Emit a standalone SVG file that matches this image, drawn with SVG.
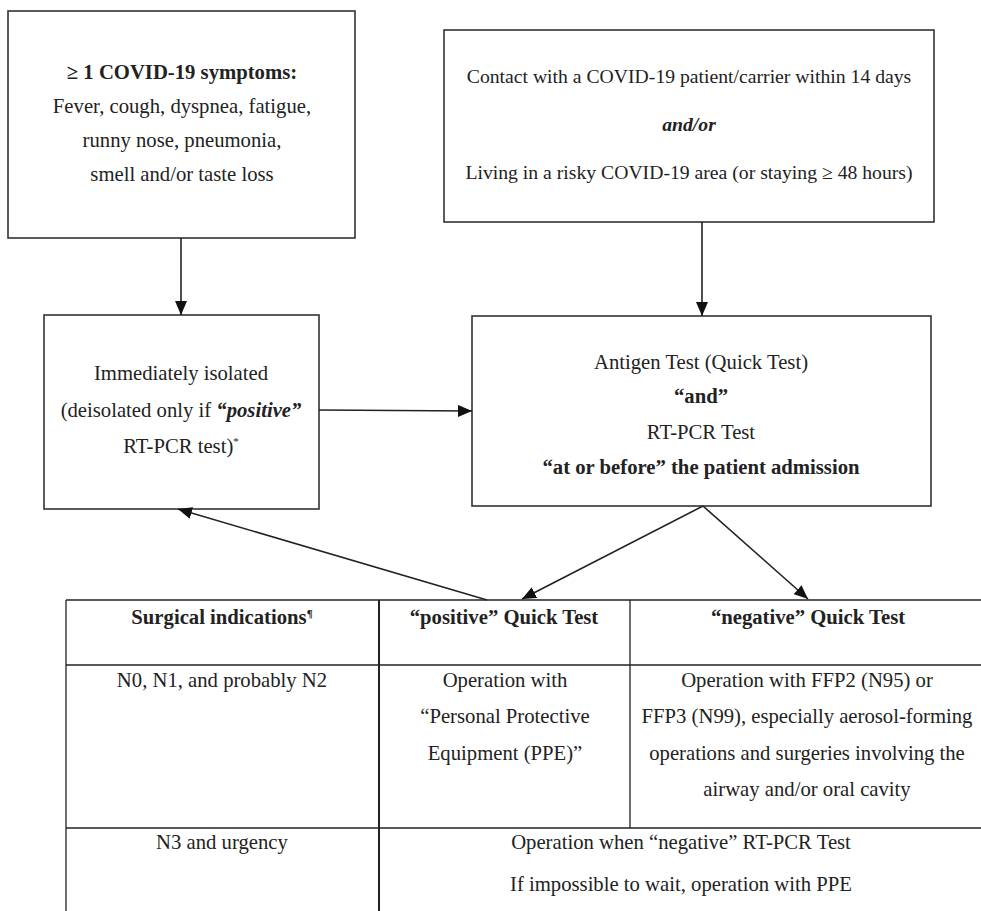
<svg xmlns="http://www.w3.org/2000/svg" width="981" height="911" viewBox="0 0 981 911">
<style>
text{font-family:'Liberation Serif','DejaVu Serif',serif;font-size:20.7px;fill:#222;text-anchor:middle}
.s{font-size:19.7px}
.b{font-weight:bold}
.bi{font-weight:bold;font-style:italic}
.box{fill:#fff;stroke:#333;stroke-width:1.6}
.ln{stroke:#222;stroke-width:1.6;fill:none}
.tl{stroke:#222;stroke-width:1.3;fill:none}
</style>
<defs>
<marker id="ah" markerWidth="14" markerHeight="12" refX="14" refY="6" orient="auto" markerUnits="userSpaceOnUse">
<path d="M0,0 L14,6 L0,12 Z" fill="#111"/>
</marker>
</defs>
<rect width="981" height="911" fill="#fff"/>
<g id="symptoms">
<rect class="box" x="8" y="11" width="347" height="227"/>
<text x="182" y="79" class="b">≥ 1 COVID-19 symptoms:</text>
<text x="182" y="113">Fever, cough, dyspnea, fatigue,</text>
<text x="182" y="147">runny nose, pneumonia,</text>
<text x="182" y="181">smell and/or taste loss</text>
</g>
<g id="contact">
<rect class="box" x="444" y="30" width="490" height="192"/>
<text x="689" y="83" class="s">Contact with a COVID-19 patient/carrier within 14 days</text>
<text x="689" y="131" class="s bi">and/or</text>
<text x="689" y="179" class="s">Living in a risky COVID-19 area (or staying ≥ 48 hours)</text>
</g>
<g id="isolated">
<rect class="box" x="44" y="315" width="275" height="194"/>
<text x="181" y="380">Immediately isolated</text>
<text x="181" y="417">(deisolated only if <tspan class="bi">“positive”</tspan></text>
<text x="181" y="453">RT-PCR test)<tspan font-size="11" dy="-8">*</tspan></text>
</g>
<g id="antigen">
<rect class="box" x="472" y="316" width="459" height="190"/>
<text x="701" y="369">Antigen Test (Quick Test)</text>
<text x="701" y="403" class="b">“and”</text>
<text x="701" y="439">RT-PCR Test</text>
<text x="701" y="474" class="b">“at or before” the patient admission</text>
</g>
<g id="connectors">
<line class="ln" x1="181" y1="238" x2="181" y2="315" marker-end="url(#ah)"/>
<line class="ln" x1="702" y1="222" x2="702" y2="316" marker-end="url(#ah)"/>
<line class="ln" x1="319" y1="410" x2="472" y2="411" marker-end="url(#ah)"/>
<line class="ln" x1="703" y1="506" x2="522" y2="599" marker-end="url(#ah)"/>
<line class="ln" x1="703" y1="506" x2="808" y2="599" marker-end="url(#ah)"/>
<line class="ln" x1="487" y1="600" x2="178" y2="509" marker-end="url(#ah)"/>
</g>
<g id="table">
<line class="tl" x1="66" y1="600" x2="981" y2="600"/>
<line class="tl" x1="66" y1="665" x2="981" y2="665"/>
<line class="tl" x1="66" y1="828" x2="981" y2="828"/>
<line class="tl" x1="66" y1="600" x2="66" y2="911"/>
<line class="ln" x1="379" y1="600" x2="379" y2="911" style="stroke-width:2"/>
<line class="tl" x1="630" y1="600" x2="630" y2="828"/>
<text x="222" y="624" class="b">Surgical indications<tspan font-size="11" dy="-7">¶</tspan></text>
<text x="504" y="624" class="b">“positive” Quick Test</text>
<text x="808" y="624" class="b">“negative” Quick Test</text>
<text x="222" y="687">N0, N1, and probably N2</text>
<text x="505" y="687">Operation with</text>
<text x="505" y="723">“Personal Protective</text>
<text x="505" y="760">Equipment (PPE)”</text>
<text x="807" y="687">Operation with FFP2 (N95) or</text>
<text x="807" y="723">FFP3 (N99), especially aerosol-forming</text>
<text x="807" y="760">operations and surgeries involving the</text>
<text x="807" y="796">airway and/or oral cavity</text>
<text x="222" y="849">N3 and urgency</text>
<text x="681" y="849">Operation when “negative” RT-PCR Test</text>
<text x="681" y="891">If impossible to wait, operation with PPE</text>
</g>
</svg>
